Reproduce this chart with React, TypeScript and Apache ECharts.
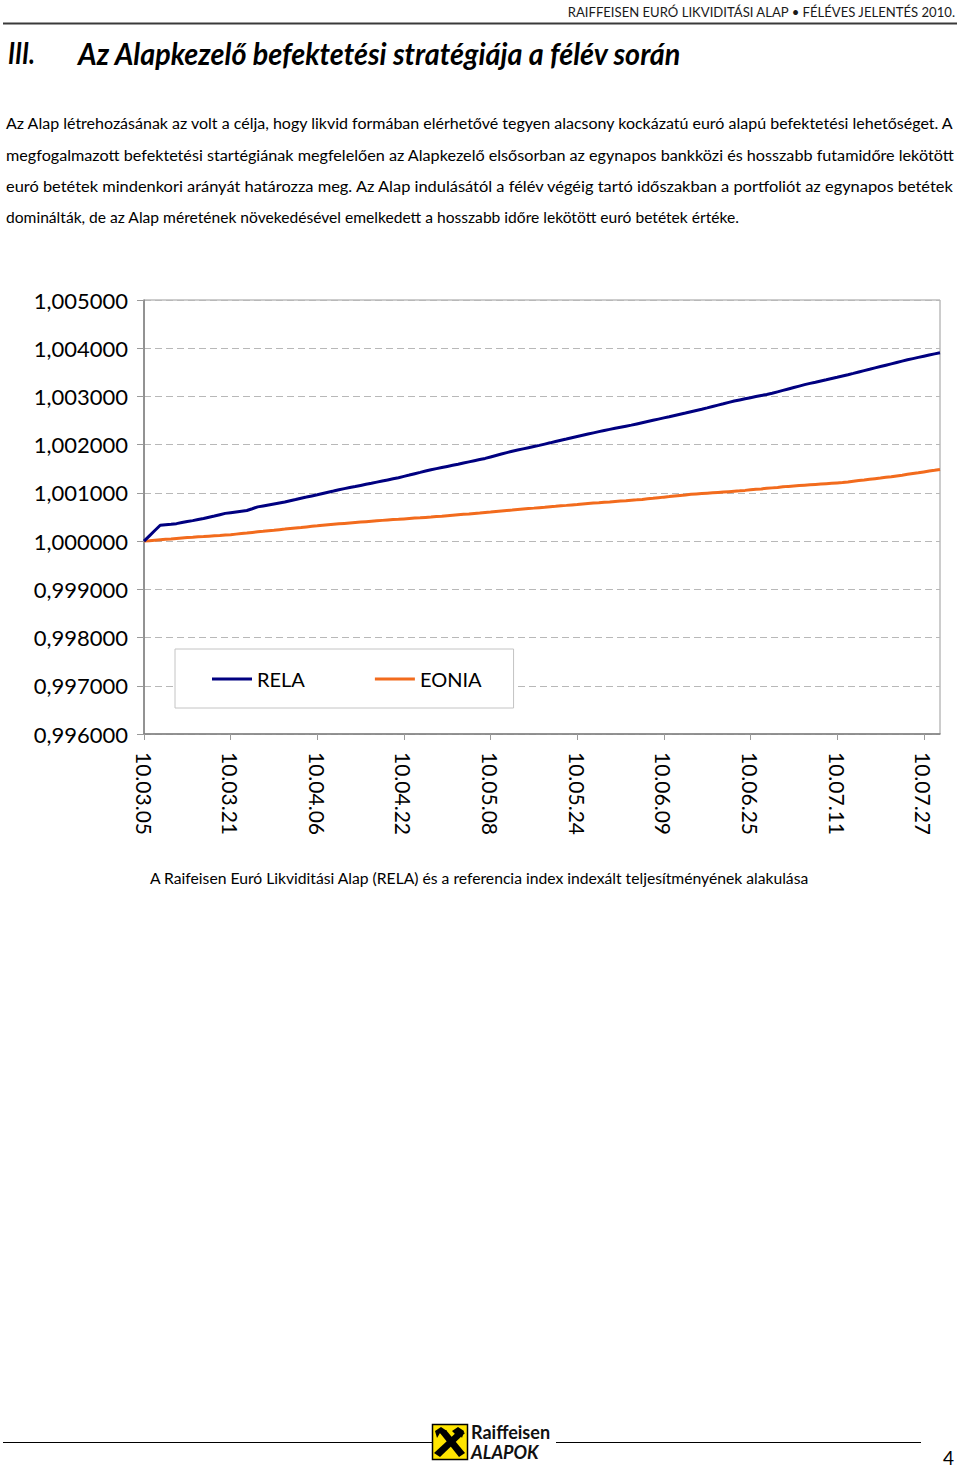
import React, { useEffect, useRef } from 'react';
import * as echarts from 'echarts';

// ---------------- data ----------------
const START_YEAR = 2010;
const START_MONTH = 2; // March (0-based)
const START_DAY = 5;
const DAY_COUNT = 148; // 10.03.05 .. 10.07.30, calendar days

const SERIES_NAMES = ['RELA', 'EONIA'];

const RELA = [
  1.000000, 1.000110, 1.000220, 1.000330, 1.000340, 1.000350, 1.000362,
  1.000385, 1.000405, 1.000425, 1.000448, 1.000470, 1.000495, 1.000520,
  1.000548, 1.000575, 1.000590, 1.000605, 1.000620, 1.000635, 1.000672,
  1.000710, 1.000730, 1.000750, 1.000770, 1.000790, 1.000810, 1.000837,
  1.000863, 1.000890, 1.000913, 1.000937, 1.000960, 1.000986, 1.001012,
  1.001038, 1.001065, 1.001088, 1.001110, 1.001132, 1.001155, 1.001178,
  1.001200, 1.001223, 1.001246, 1.001269, 1.001292, 1.001315, 1.001343,
  1.001370, 1.001398, 1.001425, 1.001453, 1.001480, 1.001503, 1.001526,
  1.001549, 1.001572, 1.001595, 1.001619, 1.001643, 1.001667, 1.001691,
  1.001715, 1.001745, 1.001775, 1.001805, 1.001835, 1.001865, 1.001889,
  1.001913, 1.001937, 1.001961, 1.001985, 1.002012, 1.002038, 1.002065,
  1.002092, 1.002118, 1.002145, 1.002170, 1.002195, 1.002220, 1.002245,
  1.002270, 1.002295, 1.002317, 1.002339, 1.002361, 1.002383, 1.002405,
  1.002430, 1.002455, 1.002480, 1.002505, 1.002530, 1.002555, 1.002580,
  1.002606, 1.002632, 1.002657, 1.002683, 1.002709, 1.002735, 1.002763,
  1.002792, 1.002820, 1.002848, 1.002877, 1.002905, 1.002928, 1.002951,
  1.002974, 1.002997, 1.003020, 1.003042, 1.003065, 1.003095, 1.003125,
  1.003155, 1.003185, 1.003215, 1.003245, 1.003271, 1.003296, 1.003322,
  1.003347, 1.003373, 1.003398, 1.003424, 1.003450, 1.003478, 1.003507,
  1.003535, 1.003563, 1.003592, 1.003620, 1.003648, 1.003676, 1.003704,
  1.003732, 1.003760, 1.003785, 1.003810, 1.003835, 1.003860, 1.003883,
  1.003905,
];

const EONIA = [
  1.000000, 1.000009, 1.000019, 1.000028, 1.000037, 1.000046, 1.000056,
  1.000065, 1.000073, 1.000080, 1.000088, 1.000095, 1.000103, 1.000111,
  1.000118, 1.000126, 1.000133, 1.000145, 1.000157, 1.000168, 1.000180,
  1.000192, 1.000203, 1.000215, 1.000226, 1.000238, 1.000249, 1.000261,
  1.000272, 1.000283, 1.000295, 1.000306, 1.000317, 1.000329, 1.000340,
  1.000349, 1.000358, 1.000367, 1.000376, 1.000385, 1.000394, 1.000403,
  1.000412, 1.000421, 1.000430, 1.000438, 1.000446, 1.000453, 1.000461,
  1.000469, 1.000477, 1.000484, 1.000492, 1.000500, 1.000509, 1.000518,
  1.000528, 1.000537, 1.000546, 1.000555, 1.000564, 1.000574, 1.000583,
  1.000593, 1.000603, 1.000614, 1.000624, 1.000634, 1.000644, 1.000655,
  1.000665, 1.000675, 1.000684, 1.000694, 1.000703, 1.000713, 1.000722,
  1.000732, 1.000741, 1.000751, 1.000760, 1.000770, 1.000779, 1.000788,
  1.000796, 1.000805, 1.000813, 1.000822, 1.000831, 1.000839, 1.000848,
  1.000856, 1.000865, 1.000877, 1.000888, 1.000900, 1.000912, 1.000923,
  1.000935, 1.000947, 1.000958, 1.000970, 1.000978, 1.000986, 1.000994,
  1.001002, 1.001010, 1.001018, 1.001026, 1.001034, 1.001042, 1.001052,
  1.001063, 1.001073, 1.001083, 1.001094, 1.001104, 1.001114, 1.001125,
  1.001135, 1.001143, 1.001151, 1.001159, 1.001167, 1.001175, 1.001183,
  1.001191, 1.001199, 1.001207, 1.001215, 1.001228, 1.001242, 1.001255,
  1.001268, 1.001282, 1.001295, 1.001308, 1.001322, 1.001335, 1.001352,
  1.001368, 1.001385, 1.001402, 1.001418, 1.001435, 1.001452, 1.001468,
  1.001485,
];

const Y_MIN = 0.996;
const Y_MAX = 1.005;
const Y_STEP = 0.001;
const X_LABEL_EVERY = 16;

const HEADER_TEXT = 'RAIFFEISEN EURÓ LIKVIDITÁSI ALAP • FÉLÉVES JELENTÉS 2010.';
const TITLE_NUM = 'III.';
const TITLE_TEXT = 'Az Alapkezelő befektetési stratégiája a félév során';
const PARAGRAPH_LINES = [
  'Az Alap létrehozásának az volt a célja, hogy likvid formában elérhetővé tegyen alacsony kockázatú euró alapú befektetési lehetőséget. A',
  'megfogalmazott befektetési startégiának megfelelően az Alapkezelő elsősorban az egynapos bankközi és hosszabb futamidőre lekötött',
  'euró betétek mindenkori arányát határozza meg. Az Alap indulásától a félév végéig tartó időszakban a portfoliót az egynapos betétek',
  'dominálták, de az Alap méretének növekedésével emelkedett a hosszabb időre lekötött euró betétek értéke.',
];
const CAPTION = 'A Raifeisen Euró Likviditási Alap (RELA) és a referencia index indexált teljesítményének alakulása';
const PAGE_NUMBER = '4';

function buildCategories(): string[] {
  const out: string[] = [];
  for (let i = 0; i < DAY_COUNT; i++) {
    const d = new Date(START_YEAR, START_MONTH, START_DAY + i);
    const yy = String(d.getFullYear() % 100).padStart(2, '0');
    const mm = String(d.getMonth() + 1).padStart(2, '0');
    const dd = String(d.getDate()).padStart(2, '0');
    out.push(`${yy}.${mm}.${dd}`);
  }
  return out;
}

const FONT = 'Lato';

let measureCtx: CanvasRenderingContext2D | null = null;
function measure(text: string, font: string): number {
  if (!measureCtx) measureCtx = document.createElement('canvas').getContext('2d');
  if (!measureCtx) return text.length * 7;
  measureCtx.font = font;
  return measureCtx.measureText(text).width;
}

function buildGraphics(): any[] {
  const g: any[] = [];

  // header
  const hFs = 14;
  const hW = measure(HEADER_TEXT, `${hFs}px ${FONT}`);
  g.push({
    type: 'text', x: 955, y: 12, scaleX: 389 / hW,
    style: { text: HEADER_TEXT, fontSize: hFs, fontFamily: FONT, fill: '#1a1a1a', textAlign: 'right', textVerticalAlign: 'middle' },
  });
  g.push({ type: 'line', shape: { x1: 3, y1: 23.5, x2: 957, y2: 23.5 }, style: { stroke: '#3a3a3a', lineWidth: 2 } });

  // title
  const tFs = 30;
  const tFont = `italic bold ${tFs}px ${FONT}`;
  const numW = measure(TITLE_NUM, tFont);
  g.push({
    type: 'text', x: 8, y: 53, scaleX: 27 / numW,
    style: { text: TITLE_NUM, fontSize: tFs, fontFamily: FONT, fontStyle: 'italic', fontWeight: 'bold', fill: '#000', textVerticalAlign: 'middle' },
  });
  const tW = measure(TITLE_TEXT, tFont);
  g.push({
    type: 'text', x: 78, y: 53, scaleX: 604 / tW,
    style: { text: TITLE_TEXT, fontSize: tFs, fontFamily: FONT, fontStyle: 'italic', fontWeight: 'bold', fill: '#000', textVerticalAlign: 'middle' },
  });

  // paragraph
  const baseFs = 15;
  const l4 = measure(PARAGRAPH_LINES[3], `${baseFs}px ${FONT}`);
  const pFs = Math.round(baseFs * (734 / l4) * 10) / 10;
  const pYs = [123, 155, 186, 217];
  const pWidths = [949, 949, 949, 734];
  PARAGRAPH_LINES.forEach((line, i) => {
    const w = measure(line, `${pFs}px ${FONT}`);
    g.push({
      type: 'text', x: 6, y: pYs[i], scaleX: pWidths[i] / w,
      style: { text: line, fontSize: pFs, fontFamily: FONT, fill: '#000', textVerticalAlign: 'middle' },
    });
  });

  // caption
  const cW = measure(CAPTION, `${pFs}px ${FONT}`);
  g.push({
    type: 'text', x: 150, y: 878, scaleX: 660 / cW,
    style: { text: CAPTION, fontSize: pFs, fontFamily: FONT, fill: '#000', textVerticalAlign: 'middle' },
  });

  // footer line
  g.push({ type: 'line', shape: { x1: 3, y1: 1442.5, x2: 433, y2: 1442.5 }, style: { stroke: '#000', lineWidth: 1.2 } });
  g.push({ type: 'line', shape: { x1: 556, y1: 1442.5, x2: 921, y2: 1442.5 }, style: { stroke: '#000', lineWidth: 1.2 } });

  // logo
  g.push({ type: 'rect', shape: { x: 432.5, y: 1424.5, width: 35, height: 35 }, style: { fill: '#FFE500', stroke: '#000', lineWidth: 1.5 } });
  g.push({ type: 'polygon', shape: { points: [[440, 1433], [446, 1430], [465, 1453], [459, 1457]] }, style: { fill: '#000' } });
  g.push({ type: 'polygon', shape: { points: [[459, 1430], [465, 1433], [440, 1457], [434, 1453]] }, style: { fill: '#000' } });
  g.push({ type: 'polygon', shape: { points: [[435, 1431], [441, 1427], [447, 1431], [443, 1435], [440, 1433], [437, 1438]] }, style: { fill: '#000' } });
  g.push({ type: 'polygon', shape: { points: [[464, 1431], [458, 1427], [452, 1431], [456, 1435], [459, 1433], [462, 1438]] }, style: { fill: '#000' } });
  g.push({
    type: 'text', x: 471, y: 1432,
    style: { text: 'Raiffeisen', fontSize: 18, fontFamily: FONT, fontWeight: 'bold', fill: '#111', textVerticalAlign: 'middle' },
  });
  g.push({
    type: 'text', x: 471, y: 1452,
    style: { text: 'ALAPOK', fontSize: 18, fontFamily: FONT, fontWeight: 'bold', fontStyle: 'italic', fill: '#111', textVerticalAlign: 'middle' },
  });

  // page number
  g.push({
    type: 'text', x: 954, y: 1457,
    style: { text: PAGE_NUMBER, fontSize: 19, fontFamily: FONT, fill: '#000', textAlign: 'right', textVerticalAlign: 'middle' },
  });

  return g;
}

export default function App() {
  const ref = useRef<HTMLDivElement>(null);

  useEffect(() => {
    if (!ref.current) return;
    const chart = echarts.init(ref.current, undefined, { renderer: 'svg' });
    const categories = buildCategories();

    const option: any = {
      animation: false,
      backgroundColor: '#ffffff',
      textStyle: { fontFamily: FONT },
      grid: {
        left: 144, top: 300, right: 20, bottom: 736,
        show: true, borderColor: '#9a9a9a', borderWidth: 1, backgroundColor: 'transparent',
      },
      legend: {
        data: SERIES_NAMES,
        left: 175, top: 649,
        orient: 'horizontal',
        padding: [20, 32, 19, 37],
        itemGap: 70,
        itemWidth: 40,
        itemHeight: 3,
        icon: 'rect',
        backgroundColor: '#ffffff',
        borderColor: '#c4c4c4',
        borderWidth: 1,
        textStyle: { fontSize: 20, fontFamily: FONT, color: '#000', padding: [0, 0, 0, 0] },
        itemStyle: { borderWidth: 0 },
        z: 10,
      },
      xAxis: {
        type: 'category',
        data: categories,
        boundaryGap: false,
        axisLine: { show: true, lineStyle: { color: '#7f7f7f', width: 1.5 } },
        axisTick: { show: true, interval: X_LABEL_EVERY - 1, length: 6, lineStyle: { color: '#9a9a9a' } },
        axisLabel: {
          interval: X_LABEL_EVERY - 1,
          rotate: -90,
          margin: 18,
          fontSize: 21,
          fontFamily: FONT,
          color: '#000',
        },
        splitLine: { show: false },
      },
      yAxis: {
        type: 'value',
        min: Y_MIN,
        max: Y_MAX,
        interval: Y_STEP,
        axisLine: { show: true, lineStyle: { color: '#7f7f7f', width: 1.5 } },
        axisTick: { show: true, length: 7, lineStyle: { color: '#9a9a9a' } },
        axisLabel: {
          margin: 16,
          fontSize: 22,
          fontFamily: FONT,
          color: '#000',
          formatter: (v: number) => v.toFixed(6).replace('.', ','),
        },
        splitLine: { show: true, lineStyle: { color: '#b8b8b8', type: [7, 4], width: 1 } },
      },
      series: [
        {
          name: SERIES_NAMES[0], type: 'line', data: RELA, showSymbol: false, symbol: 'none',
          lineStyle: { color: '#000080', width: 3 }, itemStyle: { color: '#000080' }, z: 3,
        },
        {
          name: SERIES_NAMES[1], type: 'line', data: EONIA, showSymbol: false, symbol: 'none',
          lineStyle: { color: '#F26B1D', width: 3 }, itemStyle: { color: '#F26B1D' }, z: 2,
        },
      ],
      graphic: { elements: buildGraphics() },
    };

    chart.setOption(option);
    return () => chart.dispose();
  }, []);

  return (
    <div
      ref={ref}
      style={{ position: 'absolute', left: 0, top: 0, width: 960, height: 1470, background: '#fff' }}
    />
  );
}
